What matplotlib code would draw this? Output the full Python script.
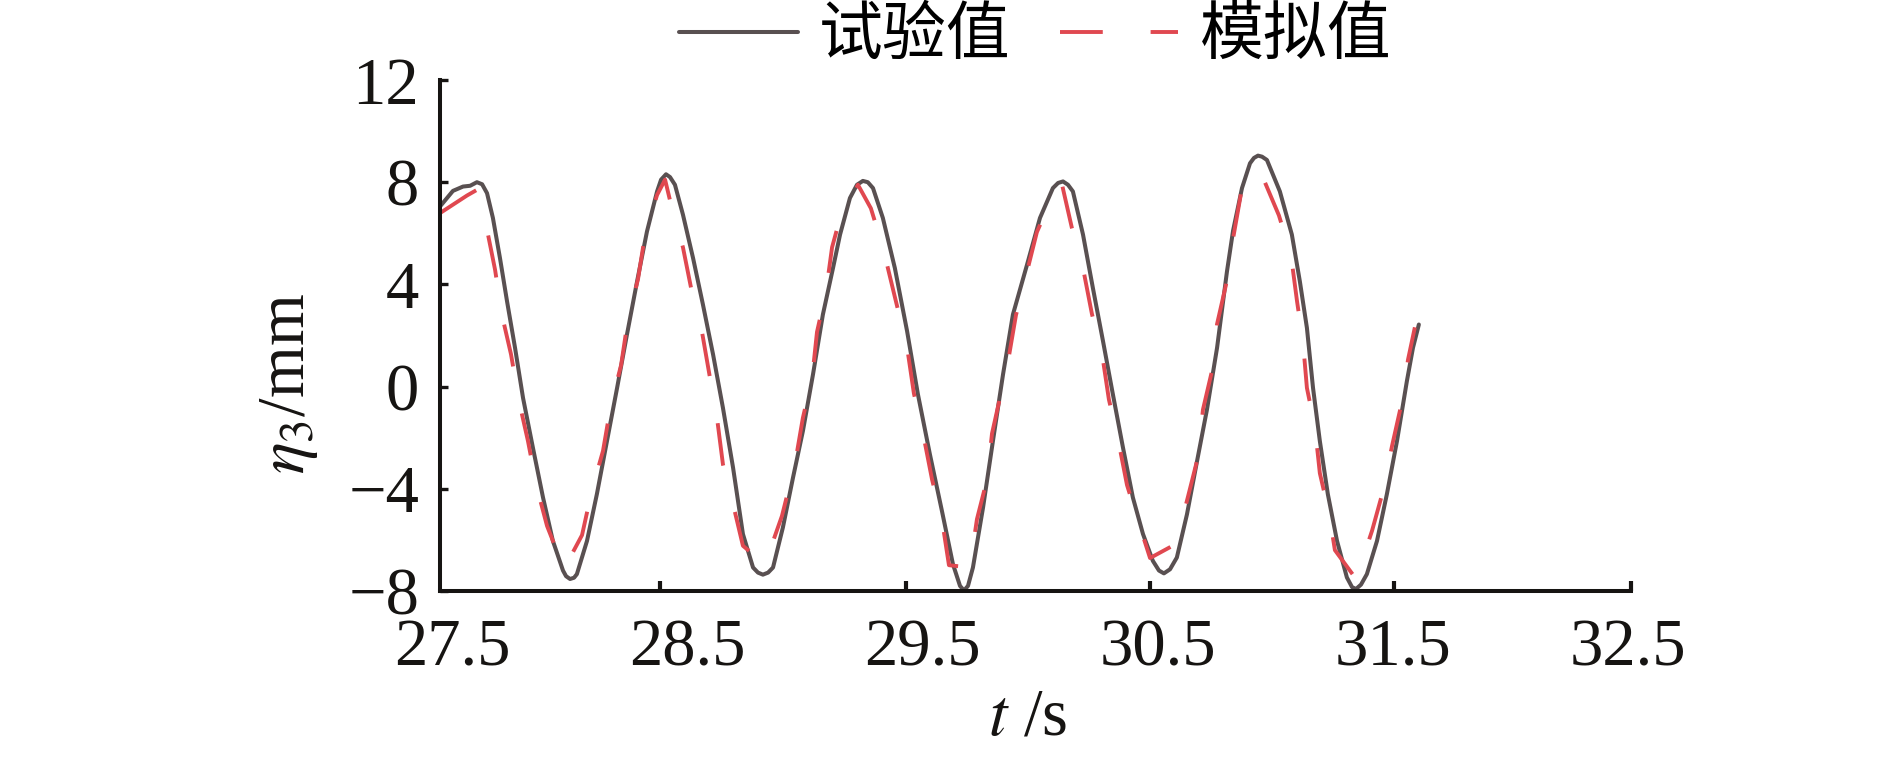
import matplotlib
matplotlib.use("Agg")
import matplotlib.pyplot as plt

# measured series (time in s, heave in mm)
t_test = [27.449, 27.504, 27.547, 27.577, 27.606, 27.628, 27.649, 27.674, 27.704, 27.734,
          27.768, 27.802, 27.844, 27.887, 27.929, 27.972, 27.985, 28.002, 28.019, 28.031,
          28.074, 28.116, 28.159, 28.202, 28.244, 28.287, 28.329, 28.372, 28.389, 28.410,
          28.427, 28.448, 28.482, 28.525, 28.567, 28.610, 28.652, 28.695, 28.737, 28.780,
          28.801, 28.822, 28.844, 28.865, 28.907, 28.950, 28.992, 29.035, 29.077, 29.120,
          29.150, 29.192, 29.222, 29.247, 29.268, 29.290, 29.332, 29.383, 29.435, 29.481,
          29.532, 29.583, 29.630, 29.660, 29.677, 29.694, 29.715, 29.758, 29.800, 29.843,
          29.885, 29.945, 30.000, 30.055, 30.077, 30.098, 30.119, 30.140, 30.183, 30.225,
          30.268, 30.310, 30.353, 30.395, 30.438, 30.480, 30.506, 30.527, 30.553, 30.582,
          30.625, 30.668, 30.710, 30.753, 30.795, 30.821, 30.859, 30.893, 30.910, 30.927,
          30.944, 30.965, 31.020, 31.071, 31.105, 31.135, 31.161, 31.190, 31.224, 31.263,
          31.305, 31.327, 31.344, 31.365, 31.390, 31.433, 31.475, 31.518, 31.560, 31.586,
          31.611]
eta_test = [7.05, 7.66, 7.83, 7.86, 8.00, 7.92, 7.57, 6.60, 5.03, 3.34,
            1.52, -0.44, -2.39, -4.34, -6.04, -7.20, -7.42, -7.53, -7.48, -7.34,
            -6.04, -4.21, -2.13, -0.05, 2.04, 4.12, 6.07, 7.64, 8.10, 8.31,
            8.20, 7.90, 6.73, 5.03, 3.21, 1.26, -0.83, -3.17, -5.77, -7.08,
            -7.28, -7.36, -7.28, -7.08, -5.51, -3.56, -1.74, 0.48, 2.82, 4.64,
            5.95, 7.38, 7.90, 8.05, 8.00, 7.77, 6.60, 4.64, 2.17, -0.30,
            -2.65, -4.86, -6.95, -7.80, -7.98, -7.80, -7.08, -4.73, -2.13, 0.48,
            2.82, 4.77, 6.60, 7.77, 7.97, 8.03, 7.90, 7.64, 5.95, 3.86,
            1.78, -0.30, -2.39, -4.34, -5.77, -6.82, -7.20, -7.31, -7.15, -6.69,
            -5.00, -2.91, -0.90, 1.52, 4.50, 6.10, 7.77, 8.74, 8.95, 9.04,
            9.00, 8.87, 7.64, 5.95, 4.12, 2.30, -0.05, -2.13, -4.21, -6.04,
            -7.47, -7.85, -7.92, -7.75, -7.34, -6.04, -4.21, -2.13, 0.21, 1.52,
            2.43]

# simulated series
t_sim = [27.449, 27.564, 27.606, 27.649, 27.683, 27.713, 27.751, 27.785, 27.823, 27.861,
         27.904, 27.976, 28.053, 28.095, 28.142, 28.176, 28.219, 28.248, 28.291, 28.321,
         28.372, 28.406, 28.435, 28.482, 28.520, 28.563, 28.597, 28.627, 28.652, 28.695,
         28.737, 28.831, 28.903, 28.958, 28.992, 29.031, 29.052, 29.090, 29.116, 29.150,
         29.171, 29.226, 29.281, 29.332, 29.379, 29.435, 29.464, 29.503, 29.541, 29.583,
         29.613, 29.702, 29.732, 29.775, 29.796, 29.864, 29.898, 29.940, 29.987, 30.051,
         30.094, 30.136, 30.183, 30.221, 30.264, 30.293, 30.332, 30.370, 30.421, 30.468,
         30.578, 30.629, 30.672, 30.693, 30.731, 30.753, 30.791, 30.821, 30.855, 30.931,
         31.016, 31.067, 31.093, 31.118, 31.135, 31.169, 31.190, 31.229, 31.254, 31.344,
         31.412, 31.458, 31.497, 31.535, 31.565, 31.594]
eta_sim = [6.79, 7.48, 7.70, 6.14, 4.58, 2.78, 1.26, -0.57, -2.13, -3.95,
           -5.45, -7.14, -5.81, -4.05, -2.52, -0.70, 0.84, 2.62, 4.21, 5.95,
           7.50, 8.10, 6.98, 5.45, 3.70, 2.14, 0.34, -1.24, -3.04, -4.60,
           -6.23, -6.95, -5.06, -3.04, -1.22, 0.32, 2.14, 3.70, 5.45, 6.60,
           6.86, 7.90, 6.98, 5.45, 3.66, 1.54, -0.27, -1.84, -3.63, -5.19,
           -6.99, -7.08, -5.19, -3.63, -1.84, 0.97, 2.80, 4.32, 6.05, 7.38,
           7.90, 6.20, 4.64, 2.84, 1.28, -0.50, -2.06, -3.85, -5.36, -6.71,
           -6.16, -4.32, -2.75, -0.90, 0.60, 2.45, 3.99, 5.79, 7.57, 8.55,
           6.70, 5.16, 3.34, 1.78, -0.05, -1.58, -3.39, -4.95, -6.40, -7.53,
           -5.64, -4.11, -2.32, -0.76, 1.06, 2.32]

x_labels = [27.5, 28.5, 29.5, 30.5, 31.5, 32.5]
x_marks = [28.384, 29.430, 30.468, 31.505, 32.513]
y_ticks = [-8, -4, 0, 4, 8, 12]

c_test = "#595051"
c_sim = "#e04850"
ink = "#161412"
serif = "Liberation Serif"
plt.rcParams["mathtext.fontset"] = "stix"

fig = plt.figure(figsize=(18.9, 7.58), dpi=100)
ax = fig.add_axes((440 / 1890, 167 / 758, 1191 / 1890, 511 / 758))

ax.plot(t_test, eta_test, color=c_test, lw=2.9, label="试验值",
        solid_joinstyle="round", solid_capstyle="round")
ax.plot(t_sim, eta_sim, color=c_sim, lw=2.8, dashes=(11, 12.3), label="模拟值")

ax.set_xlim(27.449, 32.513)
ax.set_ylim(-8, 12)

for s in ("top", "right"):
    ax.spines[s].set_visible(False)
for s in ("left", "bottom"):
    ax.spines[s].set_linewidth(2.9)
    ax.spines[s].set_color(ink)
    ax.spines[s].set_capstyle("projecting")

ax.set_xticks(x_labels)
ax.set_xticklabels([f"{v:.1f}" for v in x_labels], fontfamily=serif, fontsize=48)
ax.set_xticks(x_marks, minor=True)
ax.tick_params(axis="x", which="major", length=0, pad=20, colors=ink)
ax.tick_params(axis="x", which="minor", direction="in", length=7, width=3, color=ink)

ax.set_yticks(y_ticks)
ax.set_yticklabels([f"{v:d}".replace("-", "\u2212") for v in y_ticks],
                   fontfamily=serif, fontsize=48)
ax.tick_params(axis="y", direction="in", length=6, width=2.4, pad=15, colors=ink)

fig.text(289 / 1890, 1 - 384 / 758, r"$\eta_3$/mm", rotation=90, ha="center",
         va="center", fontsize=48, fontfamily=serif, color=ink)
fig.text(1028 / 1890, 1 - 718 / 758, r"$t$ /s", ha="center", va="center",
         fontsize=48, fontfamily=serif, color=ink)

fig.legend(loc="center", bbox_to_anchor=(1035 / 1890, 1 - 36 / 758), ncol=2,
           frameon=False, prop={"family": ["Noto Sans CJK SC", "DejaVu Sans"], "size": 46},
           handlelength=1.86, handletextpad=0.33, columnspacing=0.77,
           borderpad=0, borderaxespad=0)

fig.savefig("out.png", dpi=100)
